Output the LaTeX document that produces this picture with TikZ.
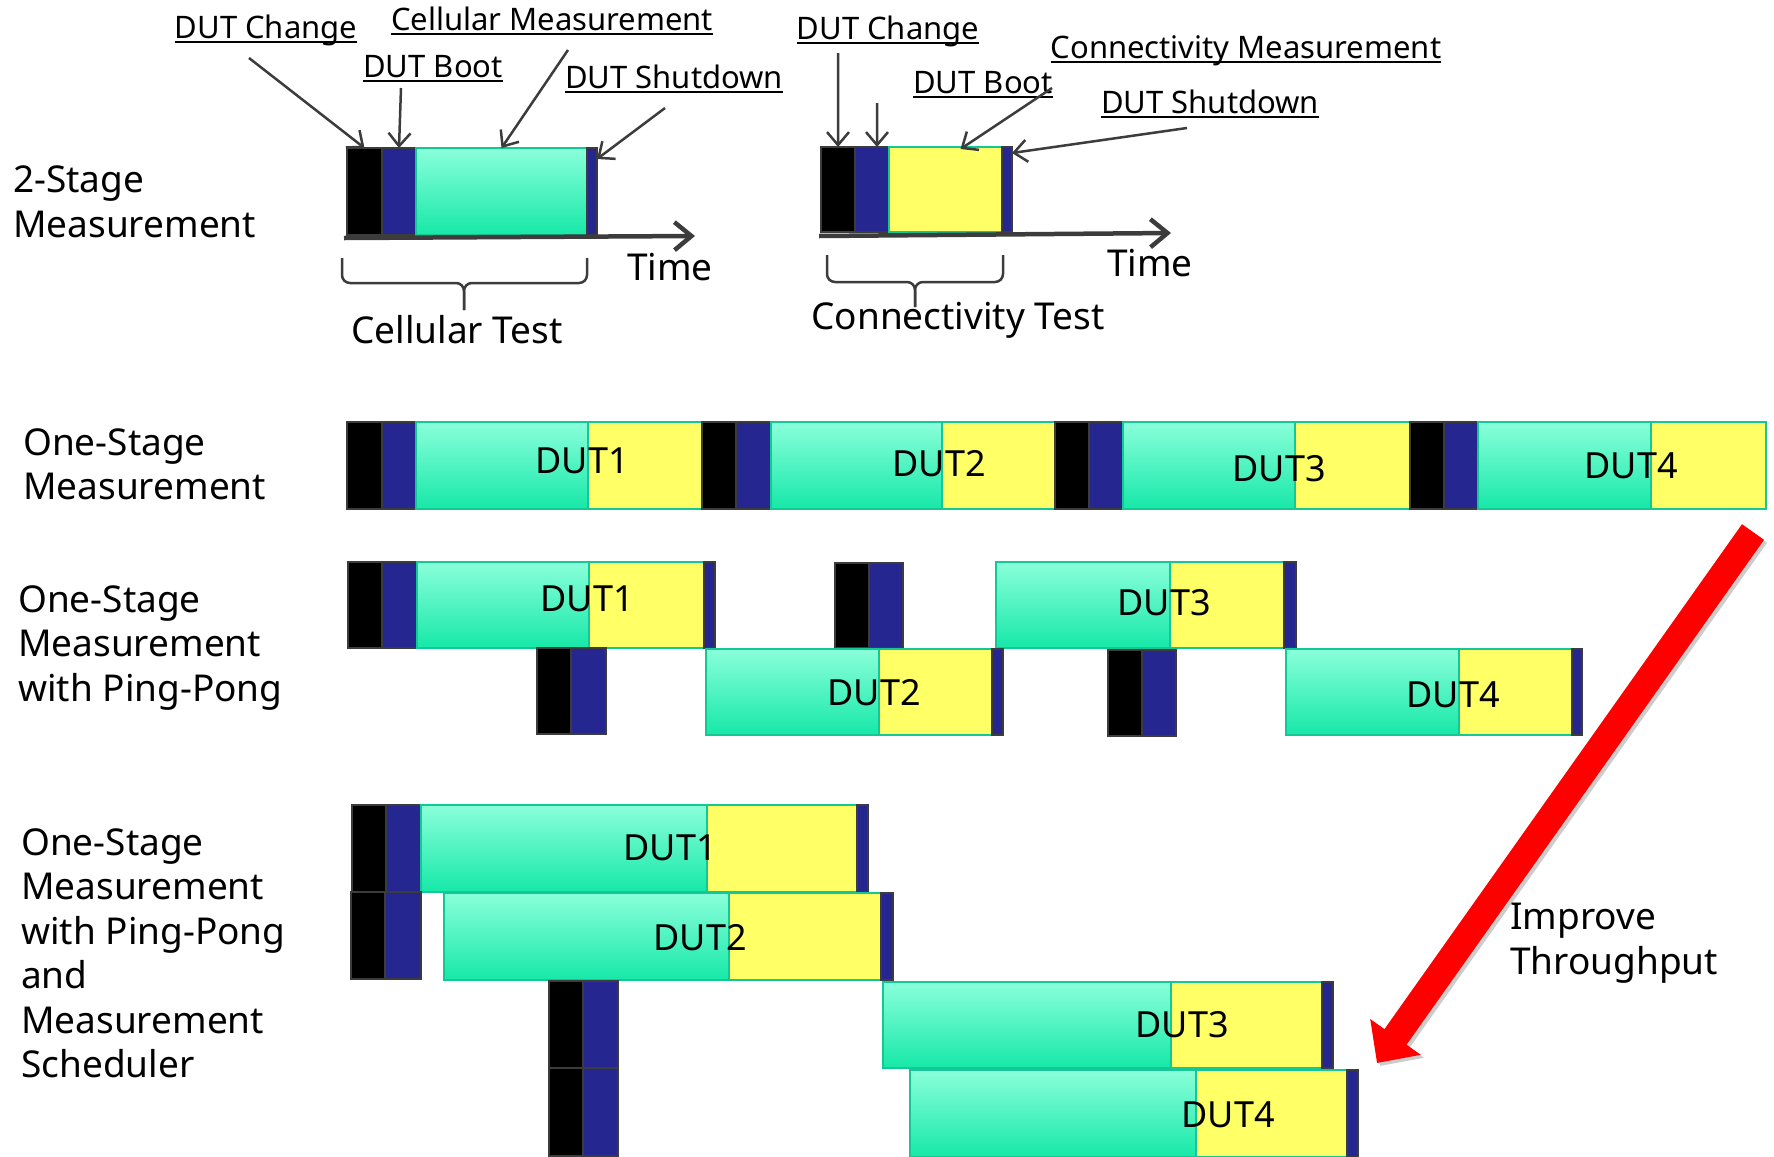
\documentclass[tikz,border=0pt]{standalone}
\usepackage{fontspec}
\setmainfont{Noto Sans}
\usetikzlibrary{calc, arrows.meta, positioning}

\definecolor{edgegray}{RGB}{60,60,60}
\definecolor{bootblue}{RGB}{38,38,145}
\definecolor{measyel}{RGB}{255,255,102}
\definecolor{mintop}{RGB}{138,255,218}
\definecolor{mintbot}{RGB}{22,232,168}
\definecolor{mintedge}{RGB}{20,200,150}

% underline at a fixed depth, as in the slide
\newcommand{\ulabel}[1]{\setbox0\hbox{#1}\rlap{\rule[-4.5bp]{\wd0}{2bp}}\box0}

\tikzstyle{seg} = [rectangle, anchor=north west, inner sep=0pt, outer sep=0pt, minimum height=87bp, line width=1.5bp]
\tikzstyle{chg} = [seg, fill=black, draw=edgegray]
\tikzstyle{boot} = [seg, fill=bootblue, draw=edgegray]
\tikzstyle{cell} = [seg, top color=mintop, bottom color=mintbot, draw=mintedge]
\tikzstyle{conn} = [seg, fill=measyel, draw=mintedge]
\tikzstyle{shut} = [seg, fill=bootblue, draw=edgegray]
\tikzstyle{dut} = [inner sep=0pt, font=\fontsize{36bp}{40bp}\selectfont]
\tikzstyle{big} = [inner sep=0pt, font=\fontsize{37bp}{44.5bp}\selectfont]
\tikzstyle{rowname} = [big, anchor=north west, align=left]
\tikzstyle{note} = [anchor=base, inner sep=0pt, font=\fontsize{31bp}{36bp}\selectfont]
\tikzstyle{pointer} = [draw=edgegray, line width=2.5bp, -{Straight Barb[length=13bp,width=22bp]}]
\tikzstyle{timeline} = [draw=edgegray, line width=4.5bp, -{Straight Barb[length=17bp,width=28bp]}]
\tikzstyle{brace} = [draw=edgegray, line width=2.5bp, rounded corners=8bp]
\tikzstyle{throughput} = [draw=red, line width=27bp, -{Triangle[length=32bp,width=60bp]}]

\begin{document}
\begin{tikzpicture}[x=1bp, y=-1bp]
\useasboundingbox (0,0) rectangle (1774,1156);

% 2-stage: cellular test
\node[chg, minimum width=35bp] (c1) at (347,148) {};
\node[boot, minimum width=34bp] (c2) at (c1.north east) {};
\node[cell, minimum width=171bp] (c3) at (c2.north east) {};
\node[shut, minimum width=10bp] (c4) at (c3.north east) {};
\coordinate (ct) at (695,236);
\draw[timeline] ([xshift=-3bp,yshift=-3bp]c1.south west) -- (ct);
\node[big] (ctime) at (670,267) {Time};
\draw[brace] (342,258) -- (342,283) -- (464,283) -- (464,310);
\draw[brace] (587,258) -- (587,283) -- (464,283) -- (464,310);
\node[big] (ctest) at (457,330) {Cellular Test};

% 2-stage: connectivity test
\node[chg, minimum width=34bp, minimum height=85bp] (n1) at (821,147) {};
\node[boot, minimum width=34bp, minimum height=85bp] (n2) at (n1.north east) {};
\node[conn, minimum width=113bp, minimum height=85bp] (n3) at (n2.north east) {};
\node[shut, minimum width=10bp, minimum height=85bp] (n4) at (n3.north east) {};
\coordinate (nt) at (1171,233);
\draw[timeline] ([xshift=-2bp,yshift=-4bp]n1.south west) -- (nt);
\node[big] (ntime) at (1150,263) {Time};
\draw[brace] (827,255) -- (827,282) -- (915,282) -- (915,307);
\draw[brace] (1003,255) -- (1003,282) -- (915,282) -- (915,307);
\node[big] (ntest) at (958,320) {Connectivity Test};

% callouts
\node[note] (lc1) at (266,38) {\ulabel{DUT Change}};
\node[note] (lc2) at (433,77) {\ulabel{DUT Boot}};
\node[note] (lc3) at (552,30) {\ulabel{Cellular Measurement}};
\node[note] (lc4) at (674,88) {\ulabel{DUT Shutdown}};
\node[note] (ln1) at (888,39) {\ulabel{DUT Change}};
\node[note] (ln3) at (1246,58) {\ulabel{Connectivity Measurement}};
\node[note] (ln2) at (983,93) {\ulabel{DUT Boot}};
\node[note] (ln4) at (1210,113) {\ulabel{DUT Shutdown}};
\coordinate (t1) at (249,58);
\coordinate (t2) at (401,88);
\coordinate (t3) at (568,50);
\coordinate (t4) at (665,108);
\coordinate (t5) at (838,53);
\coordinate (t6) at (877,103);
\coordinate (t7) at (1052,88);
\coordinate (t8) at (1187,128);
\draw[pointer] (t1) -- (c1.north);
\draw[pointer] (t2) -- (c2.north);
\draw[pointer] (t3) -- (c3.north);
\draw[pointer] (t4) -- ([yshift=-11bp]c4.north east);
\draw[pointer] (t5) -- (n1.north);
\draw[pointer] (t6) -- ([xshift=5bp]n2.north);
\draw[pointer] (t7) -- ([xshift=15bp,yshift=-2bp]n3.north);
\draw[pointer] (t8) -- ([yshift=-6bp]n4.north east);

% one-stage
\node[chg, minimum width=35bp] (a1) at (347,422) {};
\node[boot, minimum width=34bp] (a2) at (a1.north east) {};
\node[cell, minimum width=172bp] (a3) at (a2.north east) {};
\node[conn, minimum width=114bp] (a4) at (a3.north east) {};
\node[chg, minimum width=34bp] (b1) at (a4.north east) {};
\node[boot, minimum width=35bp] (b2) at (b1.north east) {};
\node[cell, minimum width=171bp] (b3) at (b2.north east) {};
\node[conn, minimum width=113bp] (b4) at (b3.north east) {};
\node[chg, minimum width=34bp] (d1) at (b4.north east) {};
\node[boot, minimum width=34bp] (d2) at (d1.north east) {};
\node[cell, minimum width=172bp] (d3) at (d2.north east) {};
\node[conn, minimum width=115bp] (d4) at (d3.north east) {};
\node[chg, minimum width=34bp] (e1) at (d4.north east) {};
\node[boot, minimum width=34bp] (e2) at (e1.north east) {};
\node[cell, minimum width=173bp] (e3) at (e2.north east) {};
\node[conn, minimum width=115bp] (e4) at (e3.north east) {};
\node[dut] (a5) at (582,461) {DUT1};
\node[dut] (b5) at (939,464) {DUT2};
\node[dut] (d5) at (1279,469) {DUT3};
\node[dut] (e5) at (1631,466) {DUT4};

% one-stage with ping-pong
\node[chg, minimum width=34bp, minimum height=86bp] (p1) at (348,562) {};
\node[boot, minimum width=35bp, minimum height=86bp] (p2) at (p1.north east) {};
\node[cell, minimum width=172bp, minimum height=86bp] (p3) at (p2.north east) {};
\node[conn, minimum width=115bp, minimum height=86bp] (p4) at (p3.north east) {};
\node[shut, minimum width=11bp, minimum height=86bp] (p5) at (p4.north east) {};
\node[chg, minimum width=34bp, minimum height=85bp] (q1) at (835,563) {};
\node[boot, minimum width=34bp, minimum height=85bp] (q2) at (q1.north east) {};
\node[cell, minimum width=174bp, minimum height=86bp] (s1) at (996,562) {};
\node[conn, minimum width=114bp, minimum height=86bp] (s2) at (s1.north east) {};
\node[shut, minimum width=12bp, minimum height=86bp] (s3) at (s2.north east) {};
\node[chg, minimum width=34bp, minimum height=86bp] (u1) at (537,648) {};
\node[boot, minimum width=35bp, minimum height=86bp] (u2) at (u1.north east) {};
\node[cell, minimum width=173bp, minimum height=86bp] (v1) at (706,649) {};
\node[conn, minimum width=113bp, minimum height=86bp] (v2) at (v1.north east) {};
\node[shut, minimum width=11bp, minimum height=86bp] (v3) at (v2.north east) {};
\node[chg, minimum width=34bp, minimum height=86bp] (w1) at (1108,650) {};
\node[boot, minimum width=34bp, minimum height=86bp] (w2) at (w1.north east) {};
\node[cell, minimum width=173bp, minimum height=86bp] (x1) at (1286,649) {};
\node[conn, minimum width=113bp, minimum height=86bp] (x2) at (x1.north east) {};
\node[shut, minimum width=10bp, minimum height=86bp] (x3) at (x2.north east) {};
\node[dut] (p6) at (587,599) {DUT1};
\node[dut] (v4) at (874,693) {DUT2};
\node[dut] (s4) at (1164,603) {DUT3};
\node[dut] (x4) at (1453,695) {DUT4};

% one-stage with ping-pong and scheduler
\node[chg, minimum width=34bp] (g1) at (352,805) {};
\node[boot, minimum width=35bp] (g2) at (g1.north east) {};
\node[cell, minimum width=286bp] (g3) at (g2.north east) {};
\node[conn, minimum width=150bp] (g4) at (g3.north east) {};
\node[shut, minimum width=11bp] (g5) at (g4.north east) {};
\node[chg, minimum width=34bp] (h1) at (351,892) {};
\node[boot, minimum width=36bp] (h2) at (h1.north east) {};
\node[cell, minimum width=285bp] (i1) at (444,893) {};
\node[conn, minimum width=152bp] (i2) at (i1.north east) {};
\node[shut, minimum width=12bp] (i3) at (i2.north east) {};
\node[chg, minimum width=34bp] (j1) at (549,981) {};
\node[boot, minimum width=35bp] (j2) at (j1.north east) {};
\node[cell, minimum width=288bp, minimum height=86bp] (m1) at (883,982) {};
\node[conn, minimum width=151bp, minimum height=86bp] (m2) at (m1.north east) {};
\node[shut, minimum width=11bp, minimum height=86bp] (m3) at (m2.north east) {};
\node[chg, minimum width=34bp, minimum height=88bp] (o1) at (549,1068) {};
\node[boot, minimum width=35bp, minimum height=88bp] (o2) at (o1.north east) {};
\node[cell, minimum width=286bp] (z1) at (910,1070) {};
\node[conn, minimum width=151bp] (z2) at (z1.north east) {};
\node[shut, minimum width=11bp] (z3) at (z2.north east) {};
\node[dut] (g6) at (670,848) {DUT1};
\node[dut] (i4) at (700,938) {DUT2};
\node[dut] (m4) at (1182,1025) {DUT3};
\node[dut] (z4) at (1228,1115) {DUT4};

% row names
\node[rowname] (r1) at (13,166) {2-Stage\\Measurement};
\node[rowname] (r2) at (23,428) {One-Stage\\Measurement};
\node[rowname] (r3) at (18,585) {One-Stage\\Measurement\\with Ping-Pong};
\node[rowname] (r4) at (21,828) {One-Stage\\Measurement\\with Ping-Pong\\and\\Measurement\\Scheduler};

% throughput arrow
\coordinate (rtail) at (1753,532);
\coordinate (rtip) at (1377,1063);
\draw[throughput, draw=black, opacity=.2] ([shift={(3,3)}]rtail) -- ([shift={(3,3)}]rtip);
\draw[throughput] (rtail) -- (rtip);
\node[rowname] (imp) at (1510,903) {Improve\\Throughput};
\end{tikzpicture}
\end{document}
